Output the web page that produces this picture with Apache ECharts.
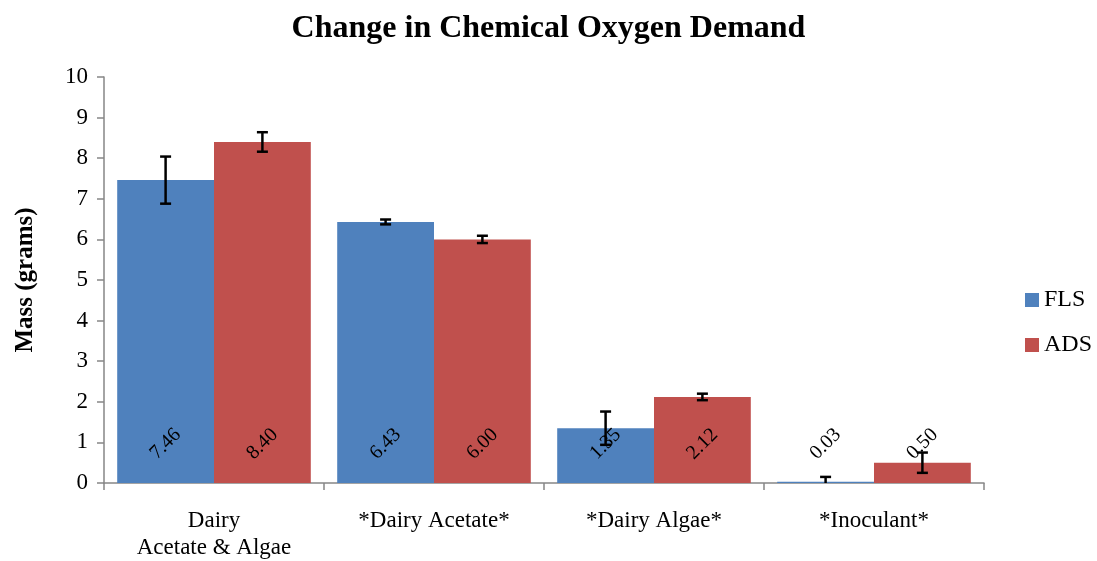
<!DOCTYPE html>
<html><head><meta charset="utf-8">
<script src="https://cdn.jsdelivr.net/npm/echarts@6/dist/echarts.min.js"></script>
<style>html,body{margin:0;padding:0;background:#fff}#c{width:1097px;height:561px}</style>
</head><body><div id="c"></div>
<script>
var categories = ['Dairy\nAcetate & Algae', '*Dairy Acetate*', '*Dairy Algae*', '*Inoculant*'];
var seriesNames = ['FLS', 'ADS'];
var flsValues = [7.46, 6.43, 1.35, 0.03];
var adsValues = [8.40, 6.00, 2.12, 0.50];
var flsErrors = [0.58, 0.06, 0.41, 0.12];
var adsErrors = [0.24, 0.09, 0.08, 0.25];
var yTicks = [0, 1, 2, 3, 4, 5, 6, 7, 8, 9, 10];

var font = '"Liberation Serif", "Times New Roman", serif';
var gap = 0.12;

function errorSeries(values, errs, side) {
  return {
    type: 'custom',
    z: 10,
    silent: true,
    data: values.map(function (v, i) { return [i, v, errs[i]]; }),
    renderItem: function (params, api) {
      var i = api.value(0), v = api.value(1), e = api.value(2);
      var bw = api.size([1, 0])[0] * (1 - gap) / 2;
      var c = api.coord([i, v]);
      var x = c[0] + side * bw / 2;
      var top = api.coord([i, v + e])[1];
      var bot = api.coord([i, Math.max(0, v - e)])[1];
      var cap = 5.5;
      var st = { stroke: '#000', lineWidth: 2.5 };
      return { type: 'group', children: [
        { type: 'line', shape: { x1: x, y1: top, x2: x, y2: bot }, style: st },
        { type: 'line', shape: { x1: x - cap, y1: top, x2: x + cap, y2: top }, style: st },
        { type: 'line', shape: { x1: x - cap, y1: bot, x2: x + cap, y2: bot }, style: st, invisible: v - e < 0 }
      ]};
    }
  };
}

var labelCfg = {
  show: true, position: 'insideBottom', distance: 39, rotate: 45,
  align: 'center', verticalAlign: 'middle',
  fontFamily: font, fontSize: 20, color: '#000',
  formatter: function (p) { return p.value.toFixed(2); }
};

var chart = echarts.init(document.getElementById('c'));
chart.setOption({
  animation: false,
  title: { text: 'Change in Chemical Oxygen Demand', left: 'center', top: 8,
    textStyle: { fontFamily: font, fontWeight: 'bold', fontSize: 32, color: '#000' } },
  legend: { orient: 'vertical', left: 1020, top: 283, itemWidth: 14, itemHeight: 14, itemGap: 21,
    icon: 'rect', data: seriesNames,
    textStyle: { fontFamily: font, fontSize: 24, color: '#000' } },
  grid: { left: 104, right: 113, top: 77, bottom: 74, containLabel: false },
  xAxis: { type: 'category', data: categories,
    axisLine: { lineStyle: { color: '#868686', width: 1.5 } },
    axisTick: { show: true, length: 7, lineStyle: { color: '#868686', width: 1.5 } },
    axisLabel: { fontFamily: font, fontSize: 23, color: '#000', margin: 24, lineHeight: 27, interval: 0 } },
  yAxis: { type: 'value', min: yTicks[0], max: yTicks[yTicks.length - 1], interval: 1,
    name: 'Mass (grams)', nameLocation: 'middle', nameGap: 66,
    nameTextStyle: { fontFamily: font, fontWeight: 'bold', fontSize: 25, color: '#000' },
    axisLine: { show: true, lineStyle: { color: '#868686', width: 1.5 } },
    axisTick: { show: true, length: 7, lineStyle: { color: '#868686', width: 1.5 } },
    splitLine: { show: false },
    axisLabel: { fontFamily: font, fontSize: 23, color: '#000', margin: 16 } },
  series: [
    { name: 'FLS', type: 'bar', data: flsValues, barCategoryGap: '12%', barGap: '0%',
      itemStyle: { color: '#4F81BD' }, label: labelCfg },
    { name: 'ADS', type: 'bar', data: adsValues, barCategoryGap: '12%', barGap: '0%',
      itemStyle: { color: '#C0504D' }, label: labelCfg },
    errorSeries(flsValues, flsErrors, -1),
    errorSeries(adsValues, adsErrors, 1)
  ]
});
</script></body></html>
